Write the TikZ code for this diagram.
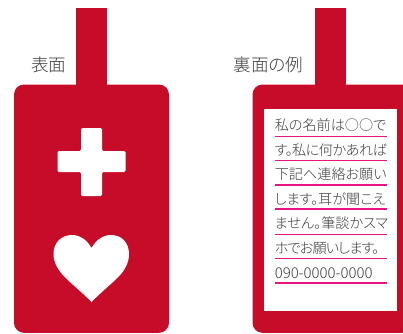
\documentclass[tikz,border=0pt]{standalone}
\usepackage{fontspec}
\setmainfont{Liberation Sans}
\newfontfamily\jp[RawFeature={+palt}]{Noto Sans CJK JP Light}
\definecolor{tagred}{RGB}{198,12,40}
\definecolor{rulepink}{RGB}{232,20,130}
\definecolor{ink}{RGB}{60,60,60}
\tikzset{
  tagfill/.style={fill=tagred,draw=none},
  whitefill/.style={fill=white,draw=none},
  title/.style={inner sep=0pt,anchor=base west,text=ink,font=\jp\fontsize{13.2}{15}\selectfont},
  msg/.style={inner sep=0pt,anchor=base west,text=ink,font=\jp\fontsize{10.6}{12}\selectfont},
  rulerline/.style={fill=rulepink,draw=none},
}
\begin{document}
\begin{tikzpicture}[x=0.75pt,y=-0.75pt]
\useasboundingbox (0,0) rectangle (403,333);
\clip (0,0) rectangle (403,333);
% front
\fill[tagfill] (76,8) rectangle (107,90);
\fill[tagfill,rounded corners=7.5pt] (14,84.5) rectangle (169,332.8);
\fill[whitefill,rounded corners=1pt] (81,128) -- (102,128) -- (102,151) -- (125.5,151) -- (125.5,172) -- (102,172) -- (102,196) -- (81,196) -- (81,172) -- (57.5,172) -- (57.5,151) -- (81,151) -- cycle;
\fill[whitefill] (91.5,248)
  .. controls (87,240) and (80,235) .. (72,235)
  .. controls (61,235) and (53.5,243) .. (53.5,254)
  .. controls (53.5,262) and (57,268) .. (62,274)
  .. controls (70,283) and (82,292) .. (91.5,302)
  .. controls (101,292) and (113,283) .. (121,274)
  .. controls (126,268) and (129,262) .. (129,254)
  .. controls (129,243) and (122,235) .. (111,235)
  .. controls (103,235) and (96,240) .. (91.5,248) -- cycle;
\node[title] (front) at (31,71) {表面};
% back
\fill[tagfill] (315,8) rectangle (346,90);
\fill[tagfill,rounded corners=7.5pt] (252.5,84.5) rectangle (412,332.8);
\fill[whitefill] (264,109) rectangle (397,311);
\node[title] (back) at (233.5,71) {裏面の例};
\node[msg] (l1) at (274.5,130) {私の名前は○○で};
\node[msg] (l2) at (274.5,155) {\addfontfeature{LetterSpace=-3.5}す。私に何かあれば};
\node[msg] (l3) at (274.5,179.5) {下記へ連絡お願い};
\node[msg] (l4) at (274.5,204) {します。耳が聞こえ};
\node[msg] (l5) at (274.5,228.5) {ません。筆談かスマ};
\node[msg] (l6) at (274.5,253) {\addfontfeature{LetterSpace=-6}ホでお願いします。};
\node[msg,font=\jp\fontsize{11.2}{12}\selectfont] (l7) at (274.5,278) {090-0000-0000};
\foreach \yy/\hh in {136/1.2,160/1.2,184.4/1.5,208.4/1.5,234/1.2,258/1.2,282.4/1.5}
  \fill[rulerline] (274.5,\yy) rectangle (387,\yy+\hh);
\end{tikzpicture}
\end{document}
